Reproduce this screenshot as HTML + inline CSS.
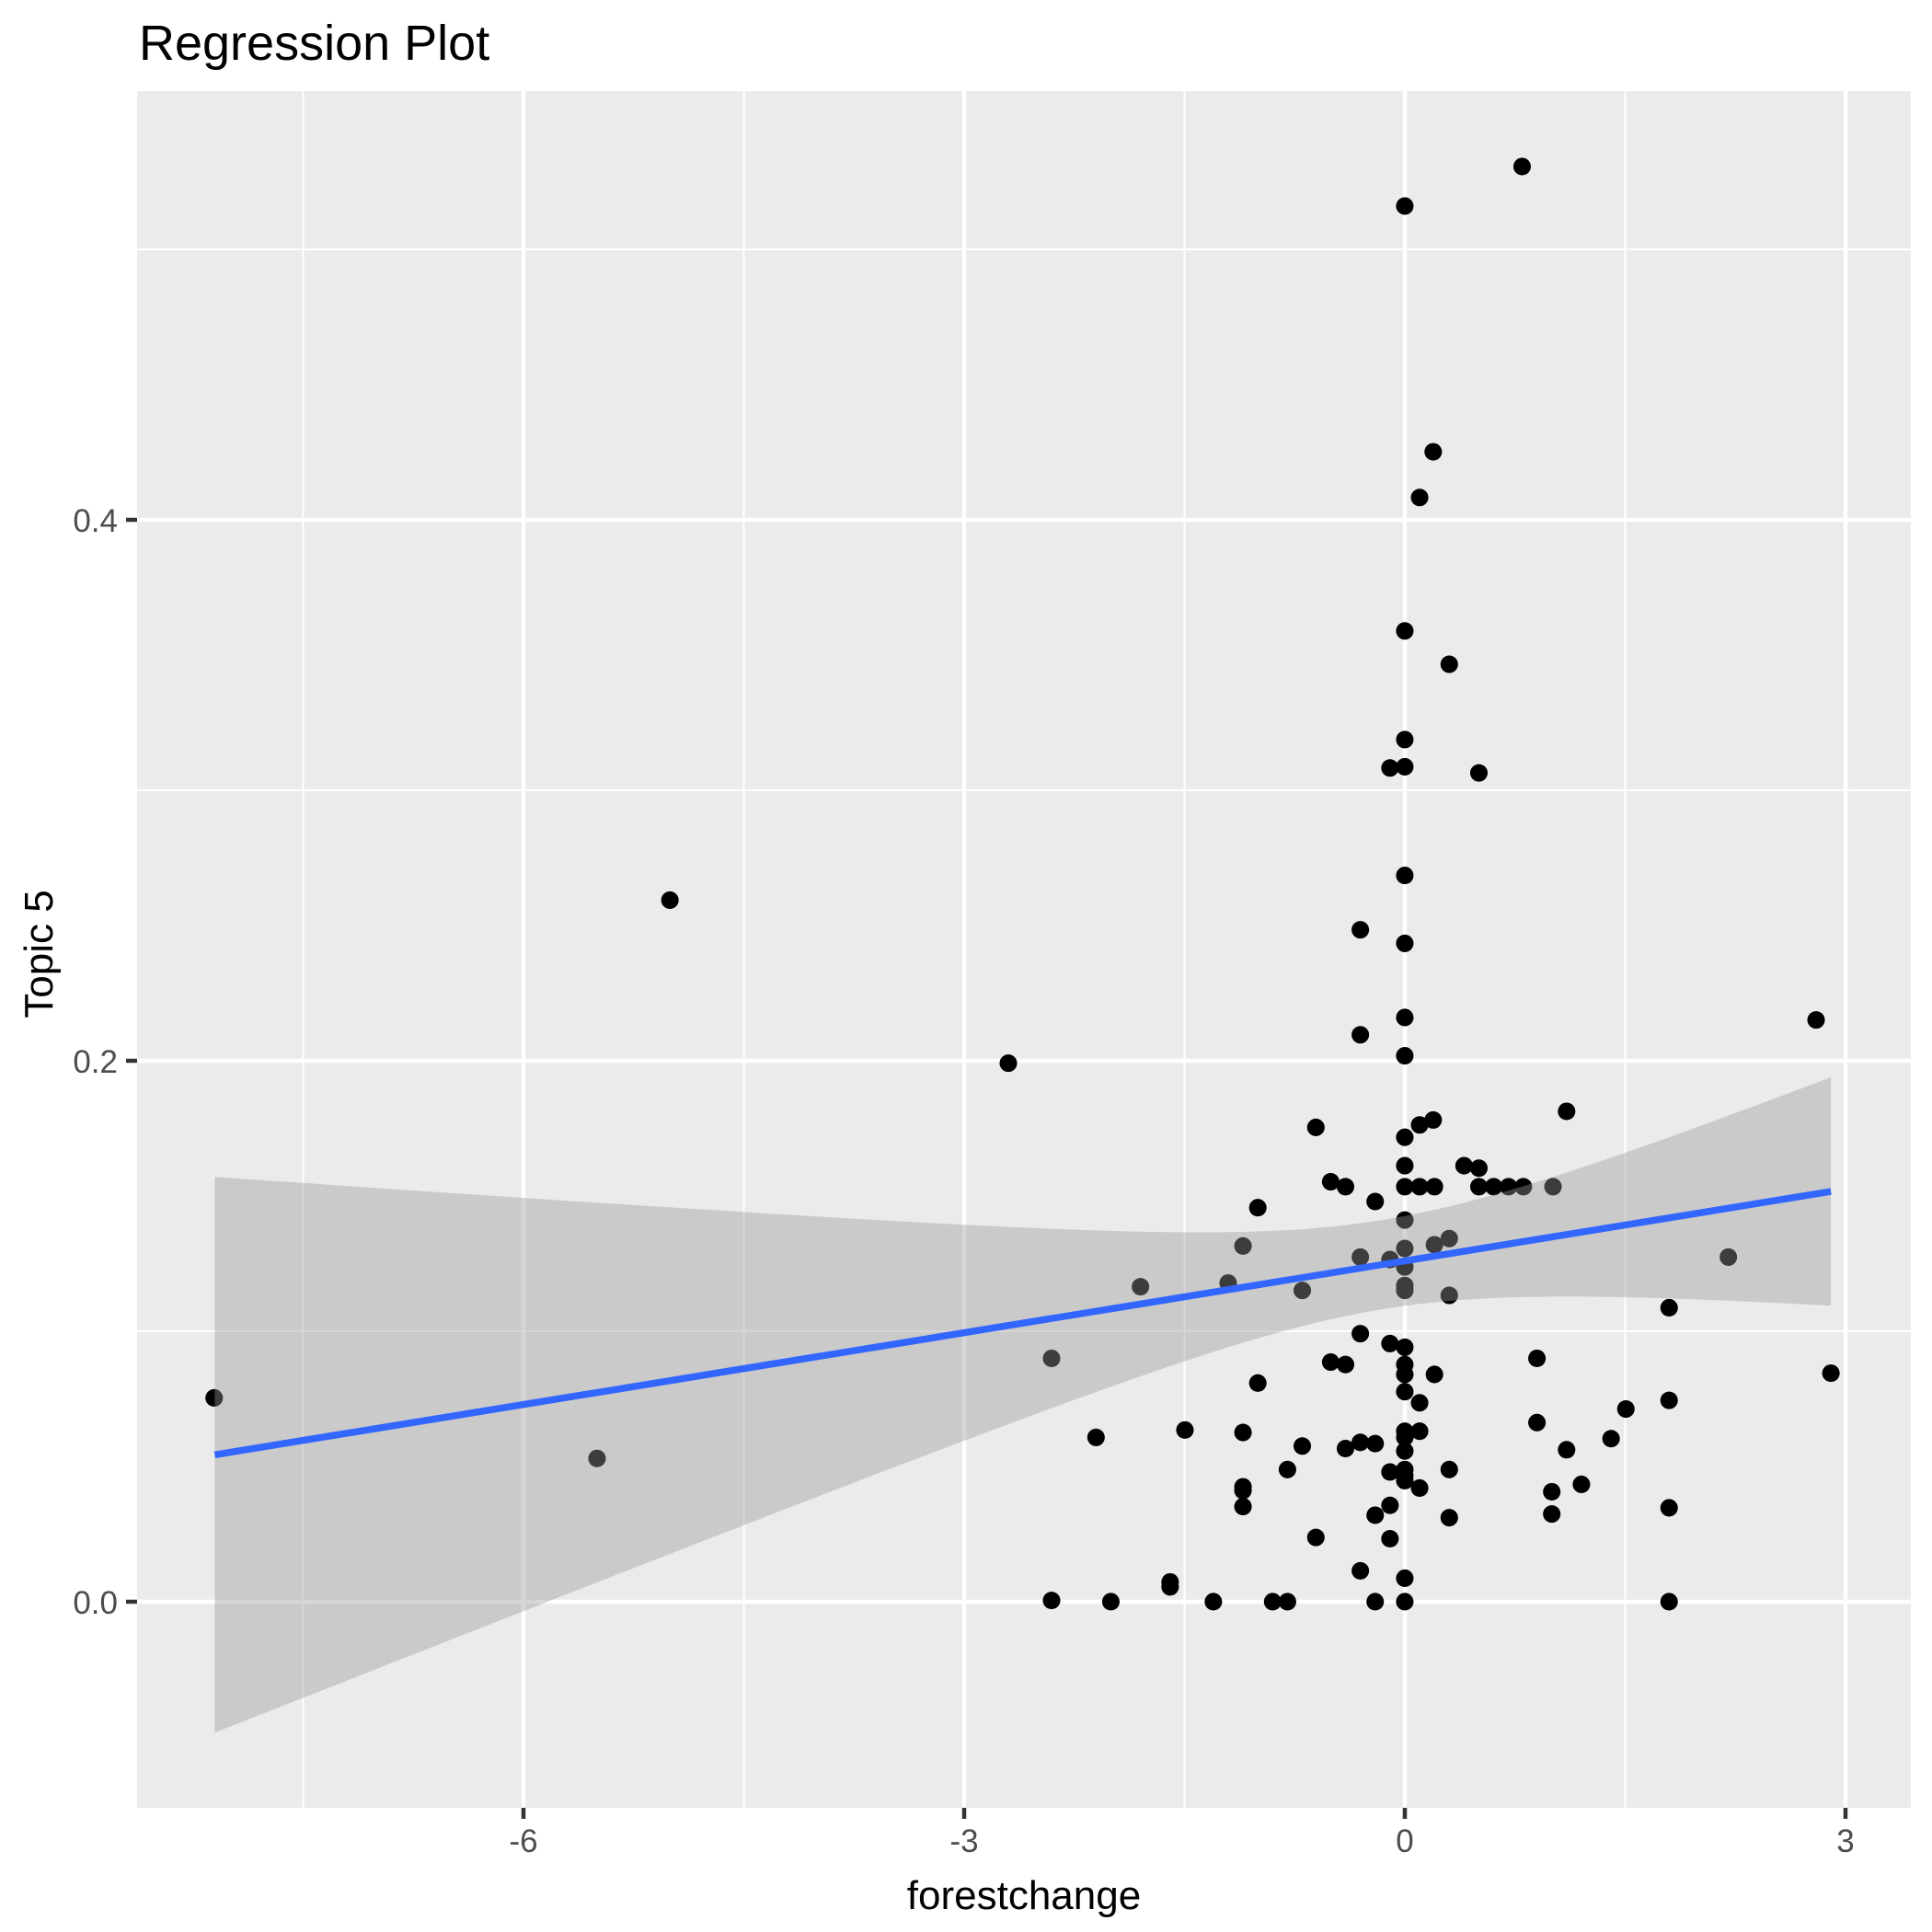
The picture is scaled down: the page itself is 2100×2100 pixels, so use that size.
<!DOCTYPE html>
<html><head><meta charset="utf-8"><style>
html,body{margin:0;padding:0;background:#fff;}
svg{display:block;}
text{font-family:"Liberation Sans",Arial,sans-serif;}
</style></head><body>
<svg id="s" width="2100" height="2100" viewBox="0 0 2100 2100" xmlns="http://www.w3.org/2000/svg">
<rect x="0" y="0" width="2100" height="2100" fill="#fff"/>
<rect x="149" y="99" width="1928" height="1866" fill="#ebebeb"/>
<g stroke="#fff" stroke-width="2">
<line x1="149" x2="2077" y1="271" y2="271"/>
<line x1="149" x2="2077" y1="1447" y2="1447"/>
<line x1="149" x2="2077" y1="859" y2="859"/>
<line y1="99" y2="1965" x1="329.5" x2="329.5"/>
<line y1="99" y2="1965" x1="808.6" x2="808.6"/>
<line y1="99" y2="1965" x1="1287.5" x2="1287.5"/>
<line y1="99" y2="1965" x1="1766.5" x2="1766.5"/>
</g>
<g stroke="#fff" stroke-width="4.5">
<line x1="149" x2="2077" y1="565" y2="565"/>
<line x1="149" x2="2077" y1="1153" y2="1153"/>
<line x1="149" x2="2077" y1="1741" y2="1741"/>
<line y1="99" y2="1965" x1="569" x2="569"/>
<line y1="99" y2="1965" x1="1048" x2="1048"/>
<line y1="99" y2="1965" x1="1527" x2="1527"/>
<line y1="99" y2="1965" x1="2006" x2="2006"/>
</g>
<g id="pts" fill="#000" transform="translate(-3.5,-1.6) scale(1.3425)"></g>
<polygon id="rib" fill="#999999" fill-opacity="0.4"/>
<line id="fit" stroke="#3366FF" stroke-width="7.5"/>
<g stroke="#333" stroke-width="4.5">
<line x1="137" x2="149" y1="565" y2="565"/>
<line x1="137" x2="149" y1="1153" y2="1153"/>
<line x1="137" x2="149" y1="1741" y2="1741"/>
<line y1="1965" y2="1977" x1="569" x2="569"/>
<line y1="1965" y2="1977" x1="1048" x2="1048"/>
<line y1="1965" y2="1977" x1="1527" x2="1527"/>
<line y1="1965" y2="1977" x1="2006" x2="2006"/>
</g>
<g fill="#4d4d4d" font-size="35">
<text x="128" y="578" text-anchor="end">0.4</text>
<text x="128" y="1166" text-anchor="end">0.2</text>
<text x="128" y="1754" text-anchor="end">0.0</text>
<text x="569" y="2013" text-anchor="middle">-6</text>
<text x="1048" y="2013" text-anchor="middle">-3</text>
<text x="1527" y="2013" text-anchor="middle">0</text>
<text x="2006" y="2013" text-anchor="middle">3</text>
</g>
<text x="1113" y="2075" text-anchor="middle" font-size="44" fill="#000">forestchange</text>
<text transform="translate(57,1037) rotate(-90)" text-anchor="middle" font-size="44" fill="#000">Topic 5</text>
<text x="151" y="65" font-size="54" fill="#000">Regression Plot</text>
</svg>
<script>
(function(){
var P=[[1235,136],[1140,168],[1163,367],[1152,404],[1140,512],[1176,539],[1140,600],[1140,622],[1128,623],[1200,627],[1140,710],[545,730],[1104,754],[1140,765],[1140,825],[1473,827],[1104,839],[1140,856],[819,862],[1271,901],[1163,908],[1152,912],[1068,914],[1140,922],[1140,945],[1188,945],[1200,947],[1080,958],[1092,962],[1140,962],[1152,962],[1164,962],[1200,962],[1212,962],[1224,962],[1236,962],[1260,962],[1021,979],[1116,974],[1140,989],[1176,1004],[1009,1010],[1164,1009],[1140,1012],[1104,1019],[1128,1021],[1402,1019],[1140,1027],[997,1040],[926,1043],[1057,1046],[1140,1042],[1140,1046],[1176,1050],[1354,1060],[1104,1081],[1128,1089],[1140,1092],[854,1101],[1247,1101],[1080,1104],[1092,1106],[1140,1106],[1140,1114],[1164,1114],[1485,1113],[1021,1121],[1140,1128],[176,1133],[1354,1135],[1152,1137],[1319,1142],[1247,1153],[962,1159],[1009,1161],[1140,1160],[1152,1160],[1140,1165],[890,1165],[1307,1166],[1104,1169],[1116,1170],[1057,1172],[1092,1174],[1271,1175],[1140,1176],[486,1182],[1045,1191],[1128,1193],[1140,1191],[1176,1191],[1140,1196],[1140,1200],[1152,1206],[1009,1205],[1009,1208],[1283,1203],[1259,1209],[1009,1221],[1128,1220],[1354,1222],[1259,1227],[1116,1228],[1176,1230],[1068,1246],[1128,1247],[1104,1273],[1140,1279],[950,1282],[950,1286],[854,1297],[902,1298],[985,1298],[1033,1298],[1045,1298],[1116,1298],[1140,1298],[1354,1298]];
var g=document.getElementById('pts'),h='';
P.forEach(function(p){h+='<circle cx="'+p[0]+'" cy="'+p[1]+'" r="7.1"/>';});
g.innerHTML=h;
function X(x){return 1527+159.7*x;}function Y(y){return 1741-2940*y;}
var x0=-8.1,x1=2.9,b0=0.126,b1=0.00885,A=0.000272,B=0.0001626,m=-0.148;
var upr=[],lwr=[];
for(var i=0;i<=110;i++){var x=x0+(x1-x0)*i/110;var f=b0+b1*x;var hw=Math.sqrt(A+B*(x-m)*(x-m));
upr.push(X(x).toFixed(1)+','+Y(f+hw).toFixed(1));lwr.unshift(X(x).toFixed(1)+','+Y(f-hw).toFixed(1));}
document.getElementById('rib').setAttribute('points',upr.concat(lwr).join(' '));
var l=document.getElementById('fit');
l.setAttribute('x1',X(x0));l.setAttribute('y1',Y(b0+b1*x0));l.setAttribute('x2',X(x1));l.setAttribute('y2',Y(b0+b1*x1));
})();
</script>
</body></html>
